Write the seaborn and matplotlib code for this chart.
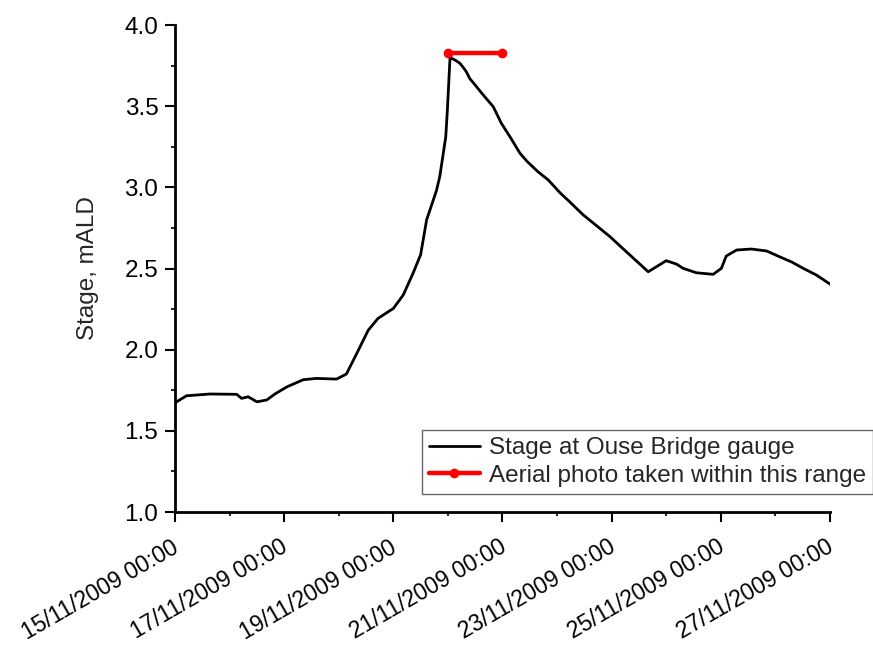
#Stage at Ouse Bridge gauge, Nov 2009 flood
import numpy as np
import pandas as pd
import matplotlib
matplotlib.use('Agg')
import matplotlib.pyplot as plt
import matplotlib.dates as mdates
import matplotlib.transforms as mtransforms
from matplotlib.ticker import MultipleLocator
import seaborn as sns

#Days since 15/11/2009 00:00 and stage (mALD)
days = [0.00, 0.21, 0.64, 1.13, 1.22, 1.34, 1.50, 1.68, 1.83, 2.05, 2.35, 2.59,
        2.96, 3.14, 3.33, 3.54, 3.72, 4.00, 4.18, 4.36, 4.50, 4.61, 4.79, 4.85,
        4.96, 4.99, 5.04, 5.07, 5.15, 5.22, 5.30, 5.34, 5.40, 5.50, 5.62, 5.72,
        5.83, 5.98, 6.14, 6.32, 6.45, 6.65, 6.84, 7.05, 7.23, 7.48, 7.70, 7.97,
        8.27, 8.67, 8.82, 9.00, 9.19, 9.31, 9.55, 9.86, 10.01, 10.10, 10.29, 10.56,
        10.84, 11.08, 11.30, 11.51, 11.75, 12.02]
stage = [1.673, 1.716, 1.727, 1.725, 1.700, 1.710, 1.679, 1.690, 1.727, 1.771, 1.815, 1.823,
         1.819, 1.850, 1.977, 2.120, 2.193, 2.254, 2.336, 2.470, 2.585, 2.800, 2.980, 3.065,
         3.310, 3.476, 3.810, 3.795, 3.780, 3.764, 3.730, 3.710, 3.670, 3.630, 3.580, 3.540,
         3.497, 3.394, 3.310, 3.210, 3.160, 3.096, 3.045, 2.968, 2.911, 2.830, 2.770, 2.696,
         2.603, 2.480, 2.511, 2.548, 2.527, 2.501, 2.474, 2.464, 2.501, 2.577, 2.614, 2.620,
         2.608, 2.572, 2.540, 2.501, 2.460, 2.400]

#Aerial photo window
photo_days = [5.0, 6.0]
photo_stage = [3.83, 3.83]

start = pd.Timestamp('2009-11-15 00:00')
gauge = pd.DataFrame({'time': start + pd.to_timedelta(days, unit='D'), 'stage': stage})
photo = pd.DataFrame({'time': start + pd.to_timedelta(photo_days, unit='D'), 'stage': photo_stage})

sns.set_style('ticks')
plt.rcParams['font.family'] = ['Liberation Sans', 'DejaVu Sans']
fs = 17.5

fig = plt.figure(figsize=(8.73, 6.46), dpi=100)
ax = fig.add_axes([0.2005, 0.2074, 0.7502, 0.7539])

sns.lineplot(data=gauge, x='time', y='stage', ax=ax, color='black', lw=2,
             label='Stage at Ouse Bridge gauge')
sns.lineplot(data=photo, x='time', y='stage', ax=ax, color='#ff0000', lw=3.2,
             marker='o', markersize=7, markeredgewidth=0,
             label='Aerial photo taken within this range')

ax.set_xlim(start, start + pd.Timedelta(days=12))
ax.set_ylim(1.0, 4.0)
ax.xaxis.set_major_locator(mdates.DayLocator(interval=2))
ax.xaxis.set_minor_locator(mdates.DayLocator(interval=1))
ax.xaxis.set_major_formatter(mdates.DateFormatter('%d/%m/%Y %H:%M'))
ax.yaxis.set_major_locator(MultipleLocator(0.5))
ax.yaxis.set_minor_locator(MultipleLocator(0.25))
ax.yaxis.set_major_formatter(plt.FormatStrFormatter('%.1f'))

ax.tick_params(which='major', direction='out', length=7, width=1.5, labelsize=fs,
               colors='black', pad=5)
ax.tick_params(which='minor', direction='out', length=3, width=1.5)
ax.tick_params(axis='x', which='major', pad=10, labelsize=16.5)
shift = mtransforms.ScaledTranslation(-4 / 100, 0, fig.dpi_scale_trans)
for lab in ax.get_xticklabels():
    lab.set_rotation(30)
    lab.set_ha('right')
    lab.set_rotation_mode('anchor')
    lab.set_transform(lab.get_transform() + shift)

ax.set_xlabel('')
ax.set_ylabel('Stage, mALD', fontsize=fs, labelpad=18)
sns.despine(ax=ax)
for s in ['left', 'bottom']:
    ax.spines[s].set_linewidth(2)
    ax.spines[s].set_color('black')

leg = ax.legend(loc='lower right', bbox_to_anchor=(1.0656, 0.037), borderaxespad=0,
                fontsize=fs, frameon=True, fancybox=False, edgecolor='#404040',
                borderpad=0.3, handlelength=2.1, handletextpad=0.35,
                labelspacing=0.22)
leg.get_frame().set_linewidth(1)

fig.savefig('out.png', dpi=100)
